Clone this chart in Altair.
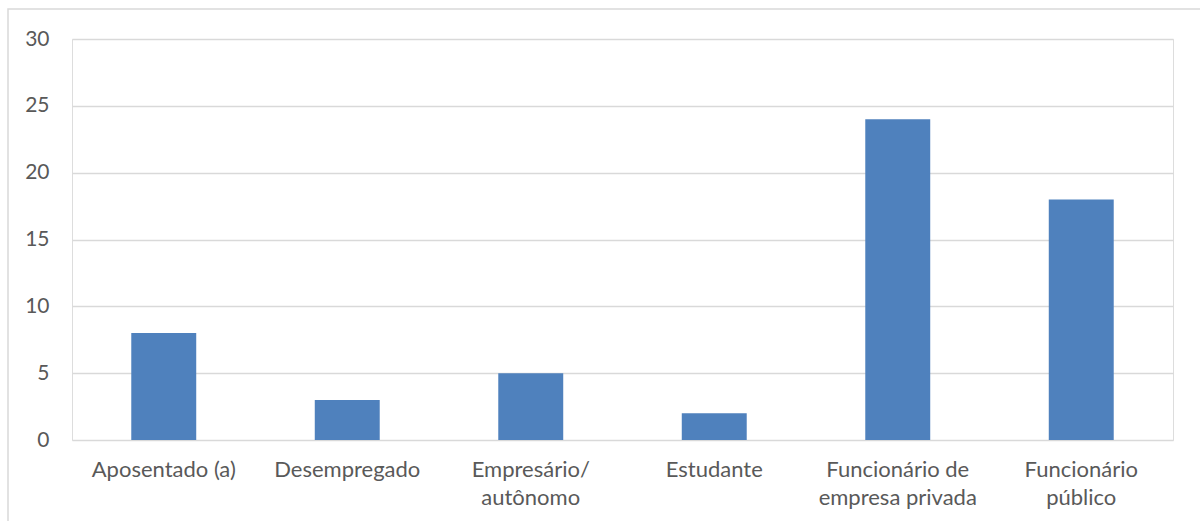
import altair as alt
import pandas as pd

categories = ["Aposentado (a)", "Desempregado", "Empresário/\nautônomo", "Estudante",
              "Funcionário de\nempresa privada", "Funcionário\npúblico"]
values = [8, 3, 5, 2, 24, 18]
y_ticks = [0, 5, 10, 15, 20, 25, 30]

df = pd.DataFrame({"cat": categories, "val": values})

W, H = 1101, 401
FONT = "Lato"

border = alt.Chart(pd.DataFrame({"a": [0]})).mark_rect(
    fill=None, stroke="#D9D9D9", strokeWidth=1.5
).encode(
    x=alt.value(-64), x2=alt.value(1200 - 72 + 10),
    y=alt.value(-30), y2=alt.value(521 - 39 + 10),
)

bars = alt.Chart(df).mark_bar(color="#4F81BD").encode(
    x=alt.X("cat:N", sort=categories, title=None,
            scale=alt.Scale(paddingInner=0.646, paddingOuter=0.323),
            axis=alt.Axis(labelAngle=0, labelExpr="split(datum.label, '\\n')",
                          labelFont=FONT, labelFontSize=22, labelColor="#595959",
                          labelPadding=19, labelLineHeight=28, domain=False, ticks=False,
                          labelBaseline="top")),
    y=alt.Y("val:Q", title=None,
            scale=alt.Scale(domain=[0, 30], nice=False),
            axis=alt.Axis(values=y_ticks, labelFont=FONT, labelFontSize=21,
                          labelColor="#595959", labelPadding=23, domain=False,
                          ticks=False, gridColor="#D9D9D9", gridWidth=1.5)),
)

chart = alt.layer(border, bars).properties(
    width=W, height=H,
    autosize=alt.AutoSizeParams(type="none"),
    padding={"left": 72, "top": 39, "right": 27, "bottom": 81},
).configure_view(stroke=None).configure(background="white")

chart.save("out.html", embed_options={"renderer": "svg", "actions": False})
